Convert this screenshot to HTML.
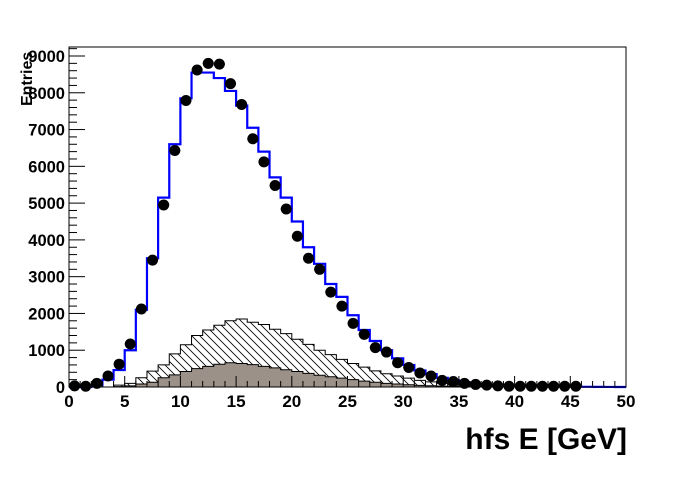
<!DOCTYPE html>
<html><head><meta charset="utf-8"><style>
body{margin:0;background:#fff}
svg text{font-family:"Liberation Sans",Arial,sans-serif;font-weight:bold}
</style></head><body>
<svg id="s" width="696" height="472" xmlns="http://www.w3.org/2000/svg">
<defs><pattern id="h" patternUnits="userSpaceOnUse" width="8" height="8"><path d="M-2,-2 L10,10 M-2,6 L2,10 M6,-2 L10,2" stroke="#000" stroke-width="0.8"/></pattern></defs>
<rect x="0" y="0" width="696" height="472" fill="#fff"/>
<g id="g"></g>
</svg>
<script>
var X0=69,X1=626,Y0=387,sx=(X1-X0)/50,sy=331/9000;
function px(v){return X0+v*sx}function py(v){return Y0-v*sy}
var blue=[0,0,50,200,460,1000,2100,3500,5150,6600,7850,8550,8550,8400,8050,7650,7050,6400,5700,5150,4500,3800,3350,2800,2450,1950,1550,1250,1000,780,600,450,350,250,180,120,80,50,40,30,25,20,15,12,10,8,5,3,2,1];
var hat=[0,0,0,0,50,100,250,430,600,900,1150,1400,1550,1680,1800,1850,1760,1700,1570,1450,1300,1160,1000,880,750,640,540,440,360,300,240,180,140,100,70,50,30,20,10,5];
var gry=[0,0,0,0,10,30,80,130,250,330,420,500,560,620,660,640,610,560,520,470,420,370,320,280,240,200,160,130,100,80,60,45,35,25,15,10,5];
var pts=[30,20,100,300,620,1170,2120,3450,4950,6430,7790,8620,8800,8780,8250,7680,6750,6120,5480,4840,4100,3500,3200,2580,2200,1730,1430,1070,950,660,530,380,300,180,150,100,70,50,30,20,20,20,20,20,20,20];
function step(a){var d="M"+px(0)+","+py(0);for(var i=0;i<a.length;i++){d+=" L"+px(i)+","+py(a[i])+" L"+px(i+1)+","+py(a[i]);}d+=" L"+px(a.length)+","+py(0);return d;}
var s="";
s+='<path d="'+step(hat)+' Z" fill="url(#h)" stroke="#000" stroke-width="1"/>';
s+='<path d="'+step(gry)+' Z" fill="#9c9188" stroke="#000" stroke-width="1"/>';
var d="M"+px(0)+","+py(blue[0]);for(var i=0;i<blue.length;i++){d+=" L"+px(i)+","+py(blue[i])+" L"+px(i+1)+","+py(blue[i]);}
s+='<path d="'+d+'" fill="none" stroke="#00f" stroke-width="2.2"/>';
for(var i=0;i<pts.length;i++){var x=px(i+0.5),y=py(pts[i]);s+='<line x1="'+(x-5.5)+'" y1="'+y+'" x2="'+(x+5.5)+'" y2="'+y+'" stroke="#000"/><circle cx="'+x+'" cy="'+y+'" r="5.5" fill="#000"/>';}
s+='<rect x="'+X0+'" y="47" width="'+(X1-X0)+'" height="'+(Y0-47)+'" fill="none" stroke="#000" stroke-width="1"/>';
for(var v=0;v<=9200;v+=200){var y=py(v);var L=(v%1000==0)?16:8;s+='<line x1="'+X0+'" y1="'+y+'" x2="'+(X0+L)+'" y2="'+y+'" stroke="#000"/>';if(v%1000==0)s+='<text x="'+(X0-4)+'" y="'+(y+6)+'" font-size="16.5" text-anchor="end">'+v+'</text>';}
for(var v=0;v<=50;v++){var x=px(v);var L=(v%5==0)?11:6;s+='<line x1="'+x+'" y1="'+Y0+'" x2="'+x+'" y2="'+(Y0-L)+'" stroke="#000"/>';if(v%5==0)s+='<text x="'+x+'" y="'+(Y0+20)+'" font-size="17" text-anchor="middle">'+v+'</text>';}
s+='<text transform="translate(32,106) rotate(-90)" font-size="16">Entries</text>';
s+='<text x="627" y="449" font-size="30" text-anchor="end">hfs E [GeV]</text>';
document.getElementById("g").innerHTML=s;
</script>
</body></html>
